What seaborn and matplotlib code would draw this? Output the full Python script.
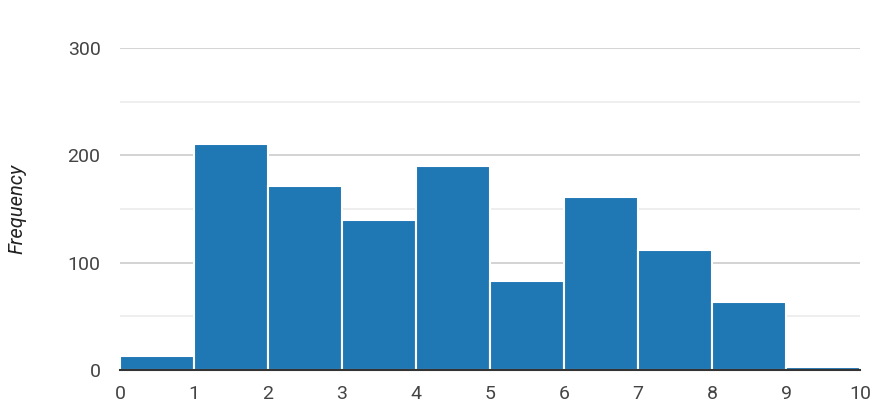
import numpy as np
import pandas as pd
import matplotlib
matplotlib.use("Agg")
import matplotlib.pyplot as plt
import seaborn as sns
from matplotlib.ticker import MultipleLocator

# ============================================================
# DATA
# ============================================================

bin_edges = [0, 1, 2, 3, 4, 5, 6, 7, 8, 9, 10]
bin_centers = [0.5, 1.5, 2.5, 3.5, 4.5, 5.5, 6.5, 7.5, 8.5, 9.5]
counts = [13, 211, 171, 140, 190, 83, 161, 112, 63, 3]

df = pd.DataFrame({"value": bin_centers, "count": counts})

# ============================================================
# STYLE
# ============================================================

sns.set_style("white")
plt.rcParams["font.family"] = ["Roboto", "DejaVu Sans"]

fig = plt.figure(figsize=(8.73, 4.15), dpi=100)
ax = fig.add_axes([120 / 873, 1 - 370 / 415, 740 / 873, 322 / 415])

sns.histplot(
    data=df,
    x="value",
    weights="count",
    bins=bin_edges,
    color="#1f77b4",
    alpha=1.0,
    edgecolor="white",
    linewidth=1.5,
    ax=ax,
)

ax.set_xlim(0, 10)
ax.set_ylim(0, 300)
ax.xaxis.set_major_locator(MultipleLocator(1))
ax.yaxis.set_major_locator(MultipleLocator(100))
ax.yaxis.set_minor_locator(MultipleLocator(50))

ax.grid(axis="y", which="major", color="#cccccc", linewidth=1.2)
ax.grid(axis="y", which="minor", color="#ebebeb", linewidth=1.2)
ax.set_axisbelow(True)

for side in ["top", "right", "left"]:
    ax.spines[side].set_visible(False)
ax.spines["bottom"].set_color("#333333")
ax.spines["bottom"].set_linewidth(1.5)
ax.spines["bottom"].set_zorder(5)

ax.tick_params(axis="both", which="both", length=0, labelsize=14,
               labelcolor="#444444")
ax.tick_params(axis="y", pad=14)
ax.tick_params(axis="x", pad=11)

ax.set_xlabel("")
ax.set_ylabel("Frequency", fontsize=14.5, style="italic", color="#222222")
ax.yaxis.set_label_coords(-0.127, 0.5)

fig.savefig("out.png", dpi=100)
